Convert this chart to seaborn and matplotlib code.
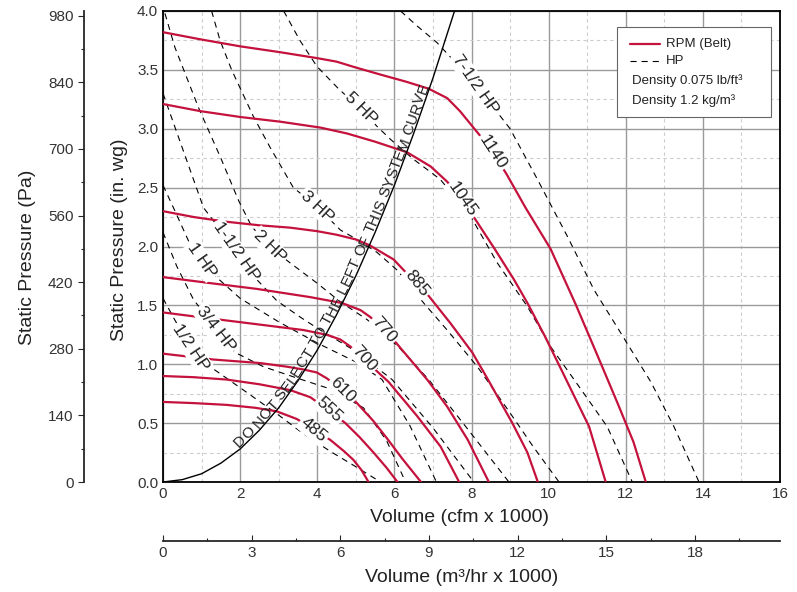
import numpy as np
import matplotlib
matplotlib.use("Agg")
import matplotlib.pyplot as plt
import matplotlib.transforms as mtransforms
from matplotlib.patches import Rectangle
from matplotlib.ticker import MultipleLocator, FormatStrFormatter
import seaborn as sns

# ---- data (x: cfm x 1000, y: in. wg) ----
sys_x = [0, 0.5, 1.0, 1.5, 2.0, 2.5, 3.0, 3.5, 4.0, 4.5, 5.0, 5.5, 6.0, 6.5, 7.0, 7.56]
sys_y = [0, 0.02, 0.07, 0.16, 0.28, 0.44, 0.63, 0.86, 1.12, 1.42, 1.75, 2.12, 2.52, 2.96, 3.43, 4.0]

rpm_485_x = [0, 0.8, 1.65, 2.4, 2.95, 3.47, 3.9, 4.34, 4.7, 4.94, 5.15, 5.33]
rpm_485_y = [0.68, 0.67, 0.655, 0.63, 0.60, 0.535, 0.45, 0.357, 0.26, 0.187, 0.10, 0.0]
rpm_555_x = [0, 0.8, 1.65, 2.5, 3.3, 3.82, 4.25, 4.73, 5.1, 5.46, 5.8, 6.08]
rpm_555_y = [0.90, 0.89, 0.87, 0.83, 0.78, 0.72, 0.62, 0.50, 0.38, 0.25, 0.12, 0.0]
rpm_610_x = [0, 1.31, 2.52, 3.2, 3.65, 3.99, 4.25, 4.64, 5.03, 5.45, 5.81, 6.2, 6.69]
rpm_610_y = [1.09, 1.04, 1.01, 0.98, 0.955, 0.93, 0.88, 0.78, 0.67, 0.52, 0.37, 0.2, 0.0]
rpm_700_x = [0, 1.2, 2.43, 3.65, 4.25, 4.6, 4.86, 5.2, 5.55, 5.85, 6.59, 7.2, 7.68]
rpm_700_y = [1.44, 1.39, 1.34, 1.29, 1.25, 1.21, 1.15, 1.05, 0.94, 0.85, 0.56, 0.30, 0.0]
rpm_770_x = [0, 1.2, 2.43, 3.82, 4.64, 5.12, 5.38, 5.72, 6.05, 6.85, 7.37, 7.9, 8.45]
rpm_770_y = [1.74, 1.69, 1.64, 1.57, 1.52, 1.46, 1.40, 1.29, 1.18, 0.87, 0.64, 0.36, 0.0]
rpm_885_x = [0, 0.8, 1.65, 2.5, 3.3, 4.0, 4.5, 5.0, 5.36, 5.98, 6.5, 6.89, 7.45, 8.02, 8.41, 9.06, 9.45, 9.72]
rpm_885_y = [2.30, 2.25, 2.21, 2.18, 2.16, 2.13, 2.10, 2.06, 2.01, 1.89, 1.71, 1.58, 1.35, 1.10, 0.88, 0.50, 0.25, 0.0]
rpm_1045_x = [0, 0.96, 2.0, 3.04, 4.08, 4.77, 5.5, 6.33, 6.94, 7.37, 7.76, 8.08, 8.6, 9.1, 9.45, 9.9, 10.35, 11.05, 11.48]
rpm_1045_y = [3.21, 3.15, 3.10, 3.06, 3.01, 2.96, 2.89, 2.80, 2.68, 2.55, 2.40, 2.24, 1.98, 1.72, 1.52, 1.24, 0.94, 0.47, 0.0]
rpm_1140_x = [0, 0.96, 2.0, 3.04, 3.99, 4.5, 5.0, 5.64, 6.3, 6.89, 7.37, 7.7, 8.0, 8.3, 8.6, 8.9, 9.4, 10.05, 10.7, 11.35, 11.8, 12.2, 12.52]
rpm_1140_y = [3.82, 3.76, 3.70, 3.65, 3.60, 3.57, 3.52, 3.46, 3.40, 3.34, 3.26, 3.15, 3.03, 2.91, 2.77, 2.62, 2.33, 1.98, 1.51, 1.01, 0.66, 0.34, 0.0]

hp_050_x = [0, 0.3, 0.72, 1.22, 2.09, 2.95, 3.6, 4.34, 5.0, 5.64]
hp_050_y = [1.56, 1.38, 1.14, 0.98, 0.78, 0.58, 0.42, 0.26, 0.13, 0.0]
hp_075_x = [0, 0.36, 0.79, 1.37, 1.87, 2.6, 3.5, 4.34, 5.2, 5.8, 6.29]
hp_075_y = [2.12, 1.83, 1.55, 1.30, 1.10, 0.98, 0.88, 0.79, 0.63, 0.35, 0.0]
hp_100_x = [0, 0.27, 0.7, 1.0, 1.35, 2.0, 3.0, 4.0, 5.0, 5.68, 6.4, 7.09]
hp_100_y = [2.52, 2.33, 2.02, 1.88, 1.75, 1.56, 1.36, 1.18, 1.02, 0.87, 0.48, 0.0]
hp_150_x = [0, 0.53, 1.05, 1.35, 1.89, 2.43, 2.95, 3.56, 4.08, 5.0, 5.94, 7.0, 8.06]
hp_150_y = [3.30, 2.81, 2.33, 2.20, 1.96, 1.72, 1.54, 1.40, 1.29, 1.11, 0.87, 0.46, 0.0]
hp_200_x = [0.05, 0.31, 0.92, 1.5, 1.96, 2.3, 2.76, 3.26, 3.99, 4.6, 5.29, 6.1, 6.89, 7.9, 8.97]
hp_200_y = [3.98, 3.69, 3.18, 2.75, 2.39, 2.17, 2.0, 1.87, 1.69, 1.53, 1.38, 1.15, 0.87, 0.45, 0.0]
hp_300_x = [1.26, 1.48, 1.78, 2.35, 2.78, 3.38, 3.99, 4.6, 5.03, 5.55, 6.07, 6.76, 7.37, 8.15, 8.93, 9.6, 10.27]
hp_300_y = [4.0, 3.75, 3.50, 3.10, 2.84, 2.50, 2.34, 2.14, 2.06, 1.95, 1.80, 1.52, 1.29, 0.98, 0.62, 0.30, 0.0]
hp_500_x = [3.13, 3.55, 3.99, 4.55, 5.12, 5.55, 5.9, 6.5, 7.19, 7.97, 8.67, 9.45, 10.05, 10.66, 11.52, 12.17]
hp_500_y = [4.0, 3.75, 3.53, 3.34, 3.17, 3.02, 2.91, 2.74, 2.57, 2.26, 1.86, 1.49, 1.15, 0.87, 0.47, 0.0]
hp_750_x = [6.16, 6.6, 7.11, 8.1, 9.0, 9.71, 10.48, 11.18, 11.9, 12.65, 13.25, 13.9]
hp_750_y = [4.0, 3.87, 3.73, 3.38, 3.0, 2.57, 2.09, 1.63, 1.25, 0.85, 0.47, 0.0]

rpm_labels = ["485", "555", "610", "700", "770", "885", "1045", "1140"]
rpm_lab_x = [3.90, 4.31, 4.66, 5.22, 5.72, 6.59, 7.77, 8.54]
rpm_lab_y = [0.44, 0.61, 0.78, 1.05, 1.29, 1.69, 2.40, 2.80]
rpm_lab_rot = [-40, -43, -45, -48, -49, -51, -55, -57]

hp_labels = ["1/2 HP", "3/4 HP", "1 HP", "1-1/2 HP", "2 HP", "3 HP", "5 HP", "7-1/2 HP"]
hp_lab_x = [0.72, 1.37, 1.0, 1.89, 2.76, 3.99, 5.12, 8.1]
hp_lab_y = [1.14, 1.30, 1.88, 1.96, 2.0, 2.34, 3.17, 3.38]
hp_lab_rot = [-56, -52, -55, -55, -45, -43, -45, -55]

pa_ticks = [0, 140, 280, 420, 560, 700, 840, 980]
pa_minor = [70, 210, 350, 490, 630, 770, 910]
m3_ticks = [0, 3, 6, 9, 12, 15, 18]
m3_minor = [1.5, 4.5, 7.5, 10.5, 13.5, 16.5, 19.5]

system_text = "DO NOT SELECT TO THE LEFT OF THIS SYSTEM CURVE"

PA_PER_INWG = 247.5
M3_PER_CFM = 1.305
RED = "#C4123C"
W, H = 797, 592

sns.set_theme(style="white")
plt.rcParams["font.family"] = ["Liberation Sans", "DejaVu Sans"]

fig = plt.figure(figsize=(W / 100, H / 100), dpi=100)
ax = fig.add_axes([163 / W, 1 - 482 / H, 617 / W, 471 / H])
ax.set_xlim(0, 16)
ax.set_ylim(0, 4)
ax.xaxis.set_major_locator(MultipleLocator(2))
ax.xaxis.set_minor_locator(MultipleLocator(1))
ax.yaxis.set_major_locator(MultipleLocator(0.5))
ax.yaxis.set_minor_locator(MultipleLocator(0.25))
ax.yaxis.set_major_formatter(FormatStrFormatter("%.1f"))
ax.grid(which="major", color="#9a9a9a", lw=1.0, ls="-")
ax.grid(which="minor", color="#cccccc", lw=0.8, ls=(0, (3, 3)))
ax.set_axisbelow(True)
ax.tick_params(which="both", direction="in", labelsize=11, labelcolor="#333333",
               color="black", width=0.8)
ax.tick_params(which="major", length=4)
ax.tick_params(which="minor", length=3)
for s in ax.spines.values():
    s.set_color("black")
    s.set_linewidth(1.3)

rpm_curves = [(rpm_485_x, rpm_485_y), (rpm_555_x, rpm_555_y), (rpm_610_x, rpm_610_y),
              (rpm_700_x, rpm_700_y), (rpm_770_x, rpm_770_y), (rpm_885_x, rpm_885_y),
              (rpm_1045_x, rpm_1045_y), (rpm_1140_x, rpm_1140_y)]
hp_curves = [(hp_050_x, hp_050_y), (hp_075_x, hp_075_y), (hp_100_x, hp_100_y),
             (hp_150_x, hp_150_y), (hp_200_x, hp_200_y), (hp_300_x, hp_300_y),
             (hp_500_x, hp_500_y), (hp_750_x, hp_750_y)]

for xs, ys in hp_curves:
    sns.lineplot(x=xs, y=ys, ax=ax, color="black", lw=0.8, sort=False,
                 estimator=None, linestyle=(0, (5.5, 4.5)), zorder=3)
for xs, ys in rpm_curves:
    sns.lineplot(x=xs, y=ys, ax=ax, color=RED, lw=1.6, sort=False,
                 estimator=None, zorder=4)
sns.lineplot(x=sys_x, y=sys_y, ax=ax, color="black", lw=1.0, sort=False,
             estimator=None, zorder=4)
ax.set_xlabel("")
ax.set_ylabel("")

box = dict(boxstyle="square,pad=0.1", fc="white", ec="none")
for lab, x, y, r in zip(rpm_labels, rpm_lab_x, rpm_lab_y, rpm_lab_rot):
    ax.text(x, y, lab, rotation=r, rotation_mode="anchor", ha="center", va="center",
            fontsize=12.5, color="#222222", bbox=box, zorder=6)
for lab, x, y, r in zip(hp_labels, hp_lab_x, hp_lab_y, hp_lab_rot):
    ax.text(x, y, lab, rotation=r, rotation_mode="anchor", ha="center", va="center",
            fontsize=12.5, color="#222222", bbox=box, zorder=6)

# secondary scales
sec_y = ax.secondary_yaxis(-0.128, functions=(lambda v: v * PA_PER_INWG,
                                              lambda v: v / PA_PER_INWG))
sec_y.set_yticks(pa_ticks)
sec_y.set_yticks(pa_minor, minor=True)
sec_y.tick_params(which="both", direction="out", labelsize=11, labelcolor="#333333", width=0.8)
sec_y.tick_params(which="major", length=4)
sec_y.tick_params(which="minor", length=2.5)
sec_y.spines["left"].set_linewidth(1.3)

sec_x = ax.secondary_xaxis(-0.1253, functions=(lambda v: v * M3_PER_CFM,
                                               lambda v: v / M3_PER_CFM))
sec_x.set_xticks(m3_ticks)
sec_x.set_xticks(m3_minor, minor=True)
sec_x.tick_params(which="both", direction="in", labelsize=11, labelcolor="#333333", width=0.8)
sec_x.tick_params(which="major", length=4)
sec_x.tick_params(which="minor", length=2.5)
sec_x.spines["bottom"].set_linewidth(1.3)

lab_kw = dict(ha="center", va="center", fontsize=14, color="#222222")
fig.text(460 / W, 1 - 518 / H, "Volume (cfm x 1000)", **lab_kw)
fig.text(462 / W, 1 - 577 / H, "Volume (m³/hr x 1000)", **lab_kw)
fig.text(120 / W, 1 - 240 / H, "Static Pressure (in. wg)", rotation=90, **lab_kw)
fig.text(28 / W, 1 - 257 / H, "Static Pressure (Pa)", rotation=90, **lab_kw)


# legend box
def af(px, py):
    return (px - 163) / 617, (482 - py) / 471


x0, y1 = af(617, 27)
x1, y0 = af(771, 117)
ax.add_patch(Rectangle((x0, y0), x1 - x0, y1 - y0, transform=ax.transAxes,
                       fc="white", ec="#666666", lw=0.8, zorder=10))
lx0, ly = af(630, 43.5)
lx1, _ = af(660, 43.5)
ax.plot([lx0, lx1], [ly, ly], transform=ax.transAxes, color=RED, lw=1.6, zorder=11)
_, ly2 = af(630, 61)
ax.plot([lx0, lx1], [ly2, ly2], transform=ax.transAxes, color="black", lw=0.8,
        ls=(0, (5.5, 4.5)), zorder=11)
tx, _ = af(666, 0)
ax.text(tx, ly, "RPM (Belt)", transform=ax.transAxes, va="center", fontsize=9.5,
        color="#222222", zorder=11)
ax.text(tx, ly2, "HP", transform=ax.transAxes, va="center", fontsize=9.5,
        color="#222222", zorder=11)
dx, dy1 = af(632, 81)
_, dy2 = af(632, 100.5)
ax.text(dx, dy1, "Density 0.075 lb/ft³", transform=ax.transAxes, va="center",
        fontsize=9.5, color="#222222", zorder=11)
ax.text(dx, dy2, "Density 1.2 kg/m³", transform=ax.transAxes, va="center",
        fontsize=9.5, color="#222222", zorder=11)

# warning text laid along the system curve
fig.canvas.draw()
rend = fig.canvas.get_renderer()
pts = ax.transData.transform(np.column_stack([sys_x, sys_y]))
dist = np.concatenate([[0], np.cumsum(np.hypot(*np.diff(pts, axis=0).T))])
pos = np.interp(2.0, sys_x, dist)
offset = 5.5
for ch in system_text:
    t = ax.text(0, 0, ch, transform=mtransforms.IdentityTransform(), fontsize=11,
                color="#222222", ha="center", va="center", rotation_mode="anchor", zorder=5)
    w = 11 * 0.28 * 100 / 72 if ch == " " else t.get_window_extent(rend).width
    c = pos + w / 2
    i = int(np.clip(np.searchsorted(dist, c), 1, len(dist) - 1))
    seg = pts[i] - pts[i - 1]
    ang = np.arctan2(seg[1], seg[0])
    px = np.interp(c, dist, pts[:, 0])
    py = np.interp(c, dist, pts[:, 1])
    t.set_position((px - np.sin(ang) * offset, py + np.cos(ang) * offset))
    t.set_rotation(np.degrees(ang))
    pos += w

fig.savefig("out.png", dpi=100)
